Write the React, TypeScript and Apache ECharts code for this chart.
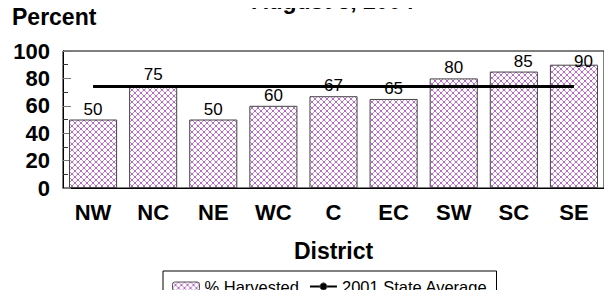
import React, { useEffect, useRef } from "react";
import * as echarts from "echarts";

const districts = ["NW", "NC", "NE", "WC", "C", "EC", "SW", "SC", "SE"];
const harvested = [50, 75, 50, 60, 67, 65, 80, 85, 90];
const stateAverage = [74, 74, 74, 74, 74, 74, 74, 74, 74];
const yTicks = [0, 20, 40, 60, 80, 100];

const FONT = "Arial, 'Liberation Sans', sans-serif";

const patternSvg =
  "<svg xmlns='http://www.w3.org/2000/svg' width='6' height='6' shape-rendering='crispEdges'>" +
  "<rect width='6' height='6' fill='#ffffff'/>" +
  "<rect x='0' y='0' width='1' height='1' fill='#b868c8'/>" +
  "<rect x='1' y='1' width='1' height='1' fill='#c890d4'/>" +
  "<rect x='2' y='2' width='2' height='2' fill='#b868c8'/>" +
  "<rect x='4' y='1' width='1' height='1' fill='#c890d4'/>" +
  "<rect x='5' y='0' width='1' height='1' fill='#b868c8'/>" +
  "<rect x='1' y='4' width='1' height='1' fill='#c890d4'/>" +
  "<rect x='4' y='4' width='1' height='1' fill='#c890d4'/>" +
  "<rect x='0' y='5' width='1' height='1' fill='#b868c8'/>" +
  "<rect x='5' y='5' width='1' height='1' fill='#b868c8'/>" +
  "</svg>";
const patternUrl = "data:image/svg+xml;charset=utf-8," + encodeURIComponent(patternSvg);

export default function App() {
  const ref = useRef<HTMLDivElement>(null);
  useEffect(() => {
    if (!ref.current) return;
    const chart = echarts.init(ref.current, undefined, { renderer: "svg" });
    const fill: any = { image: patternUrl, repeat: "repeat" };
    chart.setOption({
      animation: false,
      backgroundColor: "#ffffff",
      textStyle: { fontFamily: FONT },
      graphic: [
        {
          type: "text",
          x: 333,
          y: 12,
          style: {
            text: "August 3, 2004",
            font: `bold 23px ${FONT}`,
            fill: "#000",
            textAlign: "center",
            textVerticalAlign: "bottom",
          },
        },
        {
          type: "text",
          x: 12,
          y: 5,
          style: { text: "Percent", font: `bold 23px ${FONT}`, fill: "#000", textVerticalAlign: "top" },
        },
      ],
      legend: {
        left: 163,
        top: 271,
        borderColor: "#000",
        borderWidth: 1,
        padding: [7, 9, 8, 9],
        itemGap: 10,
        itemWidth: 27,
        itemHeight: 9,
        itemStyle: { borderColor: "#555", borderWidth: 1 },
        textStyle: { fontSize: 16.5, color: "#000", fontFamily: FONT },
        data: ["% Harvested", "2001 State Average"],
      },
      grid: { left: 63, right: 8, top: 51, bottom: 110, show: true, borderColor: "#000", borderWidth: 1 },
      xAxis: {
        type: "category",
        data: districts,
        name: "District",
        nameLocation: "middle",
        nameGap: 51,
        nameTextStyle: { fontSize: 23, fontWeight: "bold", color: "#000", fontFamily: FONT },
        axisLine: { lineStyle: { color: "#000" } },
        axisTick: { inside: true, alignWithLabel: true, length: 7, lineStyle: { color: "#333" } },
        axisLabel: { fontSize: 22, fontWeight: "bold", color: "#000", margin: 13, fontFamily: FONT },
      },
      yAxis: {
        type: "value",
        min: yTicks[0],
        max: yTicks[yTicks.length - 1],
        interval: 20,
        axisLine: { show: true, lineStyle: { color: "#000" } },
        axisTick: { show: true, inside: true, length: 8, lineStyle: { color: "#777" } },
        minorTick: { show: true, splitNumber: 2, length: 5, lineStyle: { color: "#333" } },
        splitLine: { show: false },
        axisLabel: { fontSize: 22, fontWeight: "bold", color: "#000", margin: 13, fontFamily: FONT },
      },
      series: [
        {
          name: "% Harvested",
          type: "bar",
          data: harvested,
          barWidth: "80%",
          itemStyle: { color: fill, borderColor: "#444", borderWidth: 1 },
          label: { show: true, position: "top", distance: 2, fontSize: 17, color: "#000", fontFamily: FONT },
          labelLayout: (params: any) => {
            const r = params.labelRect;
            const bottom = r.y + r.height;
            if (bottom < 70) {
              return { y: 70, verticalAlign: "bottom" };
            }
            return {};
          },
          z: 2,
        },
        {
          name: "2001 State Average",
          type: "line",
          data: stateAverage,
          symbol: "none",
          lineStyle: { color: "#000", width: 3 },
          itemStyle: { color: "#000" },
          z: 3,
        },
      ],
    });
    return () => chart.dispose();
  }, []);
  return <div ref={ref} style={{ width: 612, height: 298, margin: -8 }} />;
}
